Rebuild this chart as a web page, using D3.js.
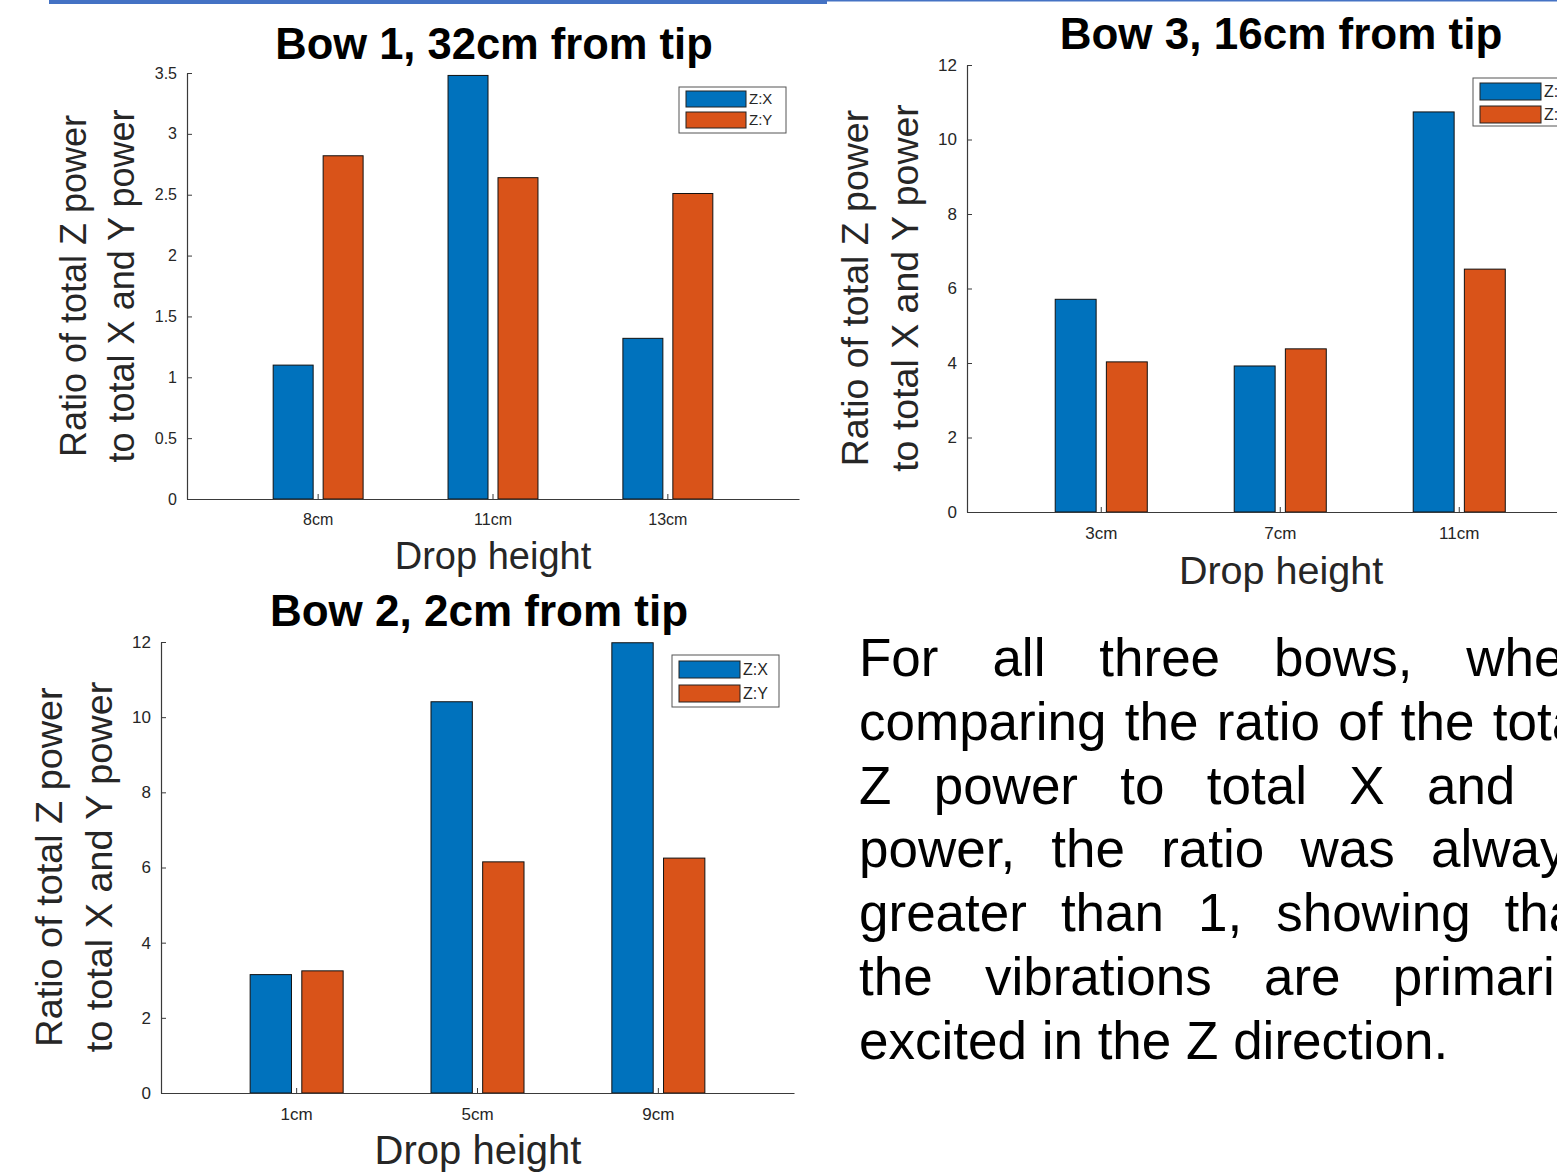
<!DOCTYPE html>
<html>
<head>
<meta charset="utf-8">
<script src="https://cdn.jsdelivr.net/npm/d3@7"></script>
<style>
  html, body { margin: 0; padding: 0; background: #fff; overflow: hidden; }
  svg { display: block; }
</style>
</head>
<body>
<svg id="slide" width="1557" height="1176"></svg>
<script>
// ---- data: ratio of total Z power to total X / Y power per drop height ----
const bow1Heights = ["8cm", "11cm", "13cm"];
const bow1ZX = [1.10, 3.48, 1.32];
const bow1ZY = [2.82, 2.64, 2.51];
const bow1Ticks = [0, 0.5, 1, 1.5, 2, 2.5, 3, 3.5];

const bow3Heights = ["3cm", "7cm", "11cm"];
const bow3ZX = [5.71, 3.92, 10.74];
const bow3ZY = [4.03, 4.38, 6.52];
const bow3Ticks = [0, 2, 4, 6, 8, 10, 12];

const bow2Heights = ["1cm", "5cm", "9cm"];
const bow2ZX = [3.15, 10.41, 11.98];
const bow2ZY = [3.25, 6.15, 6.25];
const bow2Ticks = [0, 2, 4, 6, 8, 10, 12];

const seriesNames = ["Z:X", "Z:Y"];
const seriesColors = ["#0072BD", "#D95319"];

const yLabelLines = ["Ratio of total Z power", "to total X and Y power"];
const xLabelText = "Drop height";

const paragraphLines = [
  "For all three bows, when",
  "comparing the ratio of the total",
  "Z power to total X and Y",
  "power, the ratio was always",
  "greater than 1, showing that",
  "the vibrations are primarily",
  "excited in the Z direction."
];

// ---- layout ----
const FONT = "'Liberation Sans', Arial, Helvetica, sans-serif";
const INK = "#262626";
const svg = d3.select("#slide");

// slide header rule
svg.append("rect").attr("x", 49).attr("y", 0).attr("width", 778).attr("height", 4).attr("fill", "#4472C4");
svg.append("rect").attr("x", 827).attr("y", 0).attr("width", 730).attr("height", 1.5).attr("fill", "#4472C4");

const panels = [
  {
    title: "Bow 1, 32cm from tip", heights: bow1Heights, zx: bow1ZX, zy: bow1ZY, ticks: bow1Ticks, ymax: 3.5,
    x0: 187, x1: 799, yTop: 73, yBottom: 499,
    titleX: 494, titleY: 59, titleSize: 43.5,
    xLabelX: 493, xLabelY: 569, xLabelSize: 38,
    yLab1: 86, yLab2: 134, yLabCy: 286, yLabelSize: 36,
    tickSize: 16,
    legend: { x: 679, y: 87, w: 107, h: 46, sw: 60, sh: 16, pad: 4, font: 15 }
  },
  {
    title: "Bow 3, 16cm from tip", heights: bow3Heights, zx: bow3ZX, zy: bow3ZY, ticks: bow3Ticks, ymax: 12,
    x0: 967, x1: 1593.5, yTop: 65, yBottom: 512,
    titleX: 1281, titleY: 49, titleSize: 44,
    xLabelX: 1281, xLabelY: 584, xLabelSize: 39.5,
    yLab1: 868, yLab2: 918, yLabCy: 288, yLabelSize: 37.5,
    tickSize: 17,
    legend: { x: 1473, y: 78, w: 110, h: 48, sw: 61, sh: 17, pad: 5, font: 16 }
  },
  {
    title: "Bow 2, 2cm from tip", heights: bow2Heights, zx: bow2ZX, zy: bow2ZY, ticks: bow2Ticks, ymax: 12,
    x0: 161, x1: 794, yTop: 642, yBottom: 1093,
    titleX: 479, titleY: 626, titleSize: 44,
    xLabelX: 478, xLabelY: 1164, xLabelSize: 40,
    yLab1: 62, yLab2: 112, yLabCy: 867, yLabelSize: 37.8,
    tickSize: 17,
    legend: { x: 672, y: 655, w: 107, h: 52, sw: 61, sh: 17, pad: 6, font: 16 }
  }
];

function drawPanel(p) {
  const g = svg.append("g");

  const x = d3.scaleBand().domain(p.heights).range([p.x0, p.x1])
    .paddingInner(0).paddingOuter(0.25);
  const step = x.step();
  // grouped bars: two bars share 4/7 of a category step
  const sub = d3.scaleBand().domain(seriesNames)
    .range([-step * 2 / 7, step * 2 / 7]).paddingInner(0.2).paddingOuter(0.1);
  const y = d3.scaleLinear().domain([0, p.ymax]).range([p.yBottom, p.yTop]);

  const rows = p.heights.map((h, i) => ({ h, vals: [p.zx[i], p.zy[i]] }));

  const groups = g.selectAll("g.cat").data(rows).join("g").attr("class", "cat")
    .attr("transform", d => `translate(${x(d.h) + step / 2},0)`);
  groups.selectAll("rect").data(d => d.vals.map((v, k) => ({ v, k })))
    .join("rect")
    .attr("x", d => sub(seriesNames[d.k]))
    .attr("width", sub.bandwidth())
    .attr("y", d => y(d.v))
    .attr("height", d => p.yBottom - y(d.v))
    .attr("fill", d => seriesColors[d.k])
    .attr("stroke", "#111")
    .attr("stroke-width", 1);

  // axes (inward ticks, no box)
  const xAxis = g.append("g").attr("transform", `translate(0,${p.yBottom})`)
    .call(d3.axisBottom(x).tickSizeInner(-5).tickSizeOuter(0).tickPadding(p.tickSize * 0.9));
  const yAxis = g.append("g").attr("transform", `translate(${p.x0},0)`)
    .call(d3.axisLeft(y).tickValues(p.ticks).tickFormat(d3.format("~g"))
      .tickSizeInner(-5).tickSizeOuter(0).tickPadding(10));
  [xAxis, yAxis].forEach(a => {
    a.select(".domain").attr("stroke", "#3a3a3a").attr("stroke-width", 1.2);
    a.selectAll(".tick line").attr("stroke", "#3a3a3a").attr("stroke-width", 1);
    a.selectAll(".tick text").attr("fill", INK).style("font-family", FONT).style("font-size", p.tickSize + "px");
  });

  // title
  g.append("text").attr("x", p.titleX).attr("y", p.titleY).attr("text-anchor", "middle")
    .style("font-family", FONT).style("font-weight", "bold").style("font-size", p.titleSize + "px")
    .attr("fill", "#000").text(p.title);

  // axis labels
  g.append("text").attr("x", p.xLabelX).attr("y", p.xLabelY).attr("text-anchor", "middle")
    .style("font-family", FONT).style("font-size", p.xLabelSize + "px").attr("fill", INK).text(xLabelText);
  [p.yLab1, p.yLab2].forEach((bx, i) => {
    g.append("text").attr("x", bx).attr("y", p.yLabCy).attr("text-anchor", "middle")
      .attr("transform", `rotate(-90,${bx},${p.yLabCy})`)
      .style("font-family", FONT).style("font-size", p.yLabelSize + "px").attr("fill", INK)
      .text(yLabelLines[i]);
  });

  // legend
  const L = p.legend;
  const lg = g.append("g").attr("transform", `translate(${L.x},${L.y})`);
  lg.append("rect").attr("width", L.w).attr("height", L.h).attr("fill", "#fff")
    .attr("stroke", "#555").attr("stroke-width", 1);
  seriesNames.forEach((s, k) => {
    const sy = L.pad + k * (L.sh + L.pad + 1);
    lg.append("rect").attr("x", 7).attr("y", sy).attr("width", L.sw).attr("height", L.sh)
      .attr("fill", seriesColors[k]).attr("stroke", "#222").attr("stroke-width", 1);
    lg.append("text").attr("x", 7 + L.sw + 3).attr("y", sy + L.sh / 2).attr("dy", "0.35em")
      .style("font-family", FONT).style("font-size", L.font + "px").attr("fill", INK).text(s);
  });
}

panels.forEach(drawPanel);

// ---- justified paragraph ----
const para = { x: 859, right: 1593, y0: 676, lineH: 63.8, size: 53 };
const pg = svg.append("g").style("font-family", FONT).style("font-size", para.size + "px").attr("fill", "#000");
const measure = pg.append("text").attr("x", -1000).attr("y", -1000);
paragraphLines.forEach((line, li) => {
  const words = line.split(" ");
  const baseY = para.y0 + li * para.lineH;
  const t = pg.append("text").attr("y", baseY);
  if (li === paragraphLines.length - 1) {
    t.attr("x", para.x).text(line);
    return;
  }
  const widths = words.map(w => { measure.text(w); return measure.node().getComputedTextLength(); });
  const total = d3.sum(widths);
  const gap = (para.right - para.x - total) / (words.length - 1);
  let cx = para.x;
  words.forEach((w, i) => {
    t.append("tspan").attr("x", cx).text(w);
    cx += widths[i] + gap;
  });
});
measure.remove();
</script>
</body>
</html>
